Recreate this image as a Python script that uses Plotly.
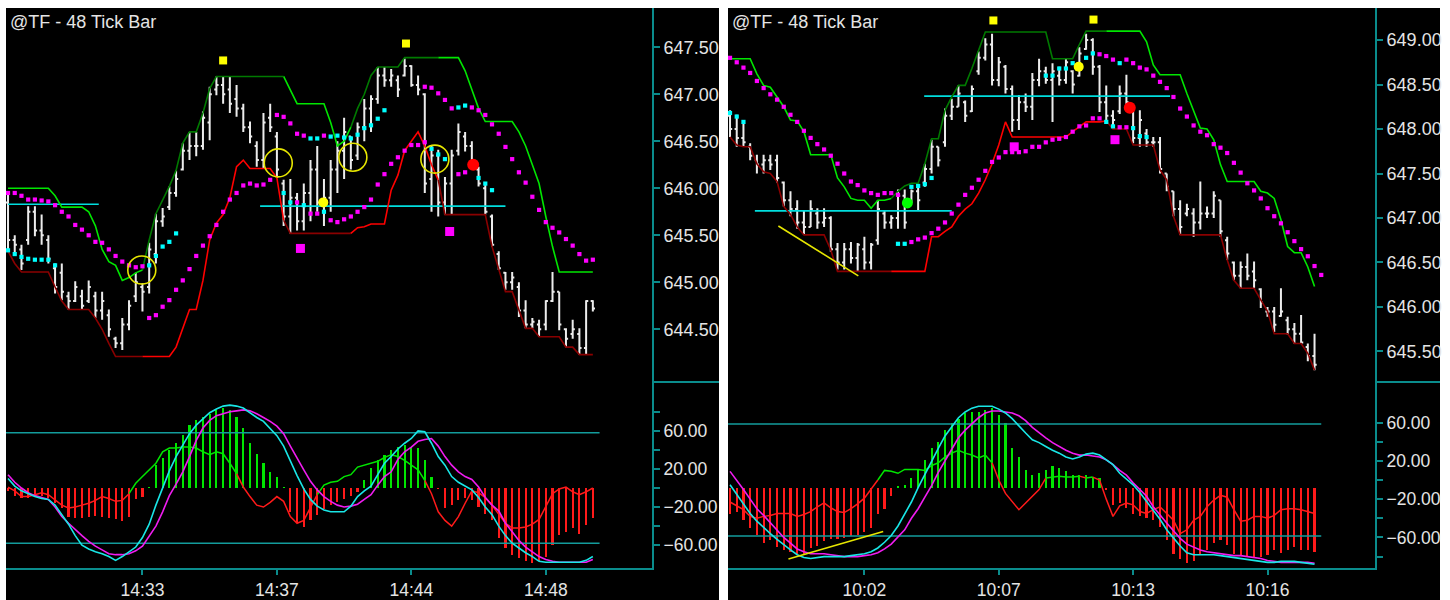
import plotly.graph_objects as go

TITLE = "@TF - 48 Tick Bar"

# ======================= LEFT CHART DATA =======================
L_time_tickvals = [20, 40, 60, 80]
L_time_ticktext = ["14:33", "14:37", "14:44", "14:48"]
L_price_ticks = [644.5, 645.0, 645.5, 646.0, 646.5, 647.0, 647.5]
L_osc_ticks = [60, 20, -20, -60]
L_osc_minor = [80, 40, 0, -40]
L_osc_levels = [58, -58]
L_hist_base = 0.0

L_open = [645.85,645.45,645.35,645.45,645.75,645.55,645.45,645.15,645.10,644.85,
          644.80,644.85,644.80,644.85,644.70,644.65,644.40,644.35,644.55,644.85,
          644.95,644.95,645.30,645.65,645.80,645.95,646.20,646.40,646.45,646.45,
          646.70,647.05,647.10,647.05,646.95,646.85,646.65,646.45,646.30,646.75,
          646.55,646.05,645.70,645.90,645.65,645.95,646.20,645.85,645.90,646.20,
          646.40,646.55,646.35,646.65,646.85,646.95,647.20,647.15,647.15,647.20,
          647.30,647.10,647.00,646.10,646.35,645.85,646.05,646.40,646.55,646.45,
          646.20,646.00,645.70,645.30,645.10,645.00,644.95,644.70,644.55,644.55,
          644.55,644.80,644.90,644.50,644.45,644.45,644.30,644.80]
L_high = [645.93,645.50,645.40,645.81,645.81,645.72,645.50,645.20,645.20,644.90,
          645.01,644.92,645.02,644.90,644.90,644.71,644.42,644.62,644.81,645.10,
          644.99,645.42,645.73,645.79,646.02,646.19,646.48,646.60,646.60,646.82,
          647.08,647.19,647.19,647.19,647.10,646.90,646.71,646.50,646.80,646.90,
          646.60,646.09,646.10,645.95,646.05,646.30,646.45,646.10,646.30,646.50,
          646.75,646.55,646.70,646.95,646.99,647.29,647.29,647.27,647.20,647.38,
          647.31,647.20,647.01,646.45,646.41,646.12,646.41,646.69,646.60,646.50,
          646.23,646.04,645.72,645.33,645.11,645.11,645.00,644.81,644.62,644.60,
          644.81,645.11,644.90,644.51,644.60,644.51,644.81,644.81]
L_low = [645.33,645.31,645.13,645.40,645.49,645.40,645.20,644.88,644.81,644.71,
         644.79,644.71,644.78,644.62,644.60,644.42,644.30,644.28,644.49,644.79,
         644.69,644.88,645.20,645.59,645.77,645.91,646.19,646.30,646.34,646.41,
         646.51,646.99,646.90,646.80,646.76,646.60,646.48,646.23,646.21,646.60,
         646.11,645.60,645.52,645.55,645.55,645.65,645.75,645.60,645.75,645.95,
         646.10,646.20,646.30,646.50,646.60,646.90,647.08,647.08,646.97,647.19,
         647.08,646.99,645.95,645.75,645.70,645.72,645.72,646.35,646.39,646.27,
         646.02,645.72,645.38,645.13,644.92,644.92,644.63,644.51,644.51,644.42,
         644.49,644.79,644.49,644.31,644.40,644.23,644.23,644.69]
L_close = [645.45,645.40,645.20,645.75,645.55,645.50,645.25,644.95,644.90,644.80,
           644.95,644.75,644.95,644.70,644.80,644.50,644.35,644.55,644.75,645.00,
           644.90,645.35,645.65,645.70,645.95,646.10,646.40,646.45,646.45,646.75,
           647.00,647.10,647.00,646.90,646.85,646.65,646.55,646.30,646.70,646.65,
           646.20,645.70,645.90,645.65,645.95,646.20,645.85,645.90,646.20,646.40,
           646.60,646.30,646.65,646.85,646.95,647.20,647.15,647.20,647.05,647.30,
           647.10,647.05,646.05,646.35,645.85,646.05,646.35,646.60,646.45,646.30,
           646.05,645.75,645.40,645.15,645.00,645.05,644.70,644.55,644.58,644.50,
           644.80,644.90,644.55,644.40,644.50,644.30,644.80,644.72]
L_upper = [646.00,646.00,646.00,646.00,646.00,646.00,646.00,645.92,645.80,645.80,
           645.80,645.80,645.75,645.60,645.35,645.22,645.18,645.02,645.05,645.10,
           645.13,645.45,645.73,645.88,646.02,646.19,646.48,646.60,646.60,646.80,
           647.06,647.19,647.19,647.19,647.19,647.19,647.19,647.19,647.19,647.19,
           647.19,647.19,647.05,646.90,646.90,646.90,646.90,646.90,646.70,646.45,
           646.50,646.65,646.85,647.00,647.20,647.29,647.29,647.29,647.29,647.39,
           647.39,647.39,647.39,647.39,647.39,647.39,647.39,647.39,647.25,647.05,
           646.85,646.71,646.71,646.71,646.71,646.71,646.60,646.45,646.25,646.05,
           645.70,645.38,645.11,645.11,645.11,645.11,645.11,645.11]
L_lower = [645.33,645.20,645.11,645.11,645.11,645.11,645.11,644.95,644.80,644.71,
           644.71,644.71,644.71,644.62,644.50,644.35,644.21,644.21,644.21,644.21,
           644.21,644.21,644.21,644.21,644.21,644.31,644.50,644.71,644.71,645.02,
           645.45,645.63,645.72,645.90,646.23,646.30,646.21,646.21,646.21,646.21,
           646.11,645.66,645.52,645.52,645.52,645.52,645.52,645.52,645.52,645.52,
           645.52,645.52,645.58,645.59,645.62,645.62,645.62,645.98,646.14,646.40,
           646.50,646.60,646.45,646.25,646.09,645.72,645.72,645.72,645.72,645.72,
           645.72,645.72,645.38,645.15,644.90,644.90,644.71,644.51,644.51,644.42,
           644.42,644.42,644.42,644.31,644.31,644.23,644.23,644.23]
L_trend = [0]*21 + [1]*21 + [0]*10 + [1]*13 + [0]*23
N = None
L_mag_hi = [645.95,645.95,645.92,645.88,645.88,645.87,645.86,645.82,645.75,645.70,
            645.61,645.56,645.50,645.43,645.42,645.35,645.28,645.22,645.18,645.16,645.17,
            N,N,N,N,N,N,N,N,N,N,N,N,N,N,N,N,N,N,N,
            646.78,646.76,646.69,646.58,646.56,N,N,646.56,
            N,N,N,N,N,N,N,N,N,N,N,N,N,N,
            647.08,647.07,647.01,646.94,646.85,N,N,646.86,646.83,646.78,646.68,646.58,
            646.44,646.31,646.17,646.06,645.91,645.77,645.64,645.58,645.53,645.46,
            645.39,645.30,645.23,645.24]
L_mag_lo = [N]*21 + [644.62,644.65,644.74,644.81,644.92,645.02,645.14,645.28,645.39,645.49,
            645.61,645.75,645.88,645.95,646.03,646.05,646.03,646.04,646.09,
            N,N,N,
            645.85,N,645.73,645.73,N,645.66,645.64,645.67,645.70,645.75,645.80,645.88,
            646.04,646.15,646.26,646.33,646.40,646.46,646.46,646.49,
            N,N,N,N,646.15,646.17]
L_cyan_hi = [N]*45 + [646.53,646.53,N,646.55,646.56,646.54,646.53,646.57,646.64,646.67,
             646.74,646.83] + [N]*10 + [646.86,646.88]
L_cyan_lo = [645.34,645.30,645.27,645.25,645.24,645.24,645.24,645.18] + [N]*13 + \
            [645.18,645.28,645.38,645.43,645.52] + [N]*15 + \
            [645.95,645.85,N,645.82,N,N,645.75] + [N]*15 + \
            [646.42,646.36,646.31] + [N]*4 + [646.11,646.05,645.98]
L_hl_start = [0, 37.5]
L_hl_end = [13.5, 74]
L_hl_price = [645.83, 645.81]
L_circle_x = [19.9, 40.2, 51.3, 63.5]
L_circle_y = [645.13, 646.27, 646.33, 646.31]
L_sq_yellow_x = [32.0, 59.2]
L_sq_yellow_y = [647.36, 647.54]
L_sq_magenta_x = [43.5, 65.7]
L_sq_magenta_y = [645.36, 645.54]
L_dot_yellow_x = [46.9]
L_dot_yellow_y = [645.85]
L_dot_green_x = []
L_dot_green_y = []
L_dot_red_x = [69.2]
L_dot_red_y = [646.25]
L_trend_line_x = []
L_trend_line_y = []
L_osc_trend_x = []
L_osc_trend_y = []

L_osc_cyan = [10,2,-3,-6,-9,-11,-12,-18,-28,-38,
              -50,-60,-64,-67,-69,-72,-76,-72,-67,-62,
              -52,-38,-18,0,18,33,45,57,66,73,
              79,83,86,87,86,84,79,74,70,63,
              55,44,28,13,-1,-12,-19,-23,-25,-25,
              -25,-19,-9,-3,2,14,26,33,41,47,
              52,60,59,47,33,24,12,6,2,-2,
              -10,-20,-28,-40,-50,-58,-63,-68,-72,-77,
              -78,-78,-78,-78,-78,-78,-76,-72]
L_osc_mag = [14,6,0,-5,-8,-10,-12,-20,-30,-37,
             -44,-50,-56,-61,-65,-69,-70,-70,-69,-66,
             -61,-51,-40,-25,-8,4,17,33,50,63,
             71,76,78,80,81,82,81,78,74,70,
             65,57,44,31,19,7,-2,-9,-14,-18,
             -20,-19,-17,-12,-7,3,12,17,30,38,
             43,49,51,52,44,33,24,17,12,9,
             1,-10,-18,-24,-37,-46,-55,-62,-67,-72,
             -75,-77,-78,-78,-78,-78,-78,-75]
L_osc_fast = [1,-3,-9,-9,-7,-5,-7,-13,-18,-21,
              -20,-18,-16,-13,-9,-11,-14,-13,-6,5,
              12,19,26,38,42,42,43,43,42,38,
              35,38,36,26,15,1,-9,-18,-20,-15,
              -9,-14,-30,-37,-34,-20,-7,3,6,7,
              12,14,22,24,26,28,32,35,33,29,
              24,19,8,-6,-25,-34,-40,-30,-16,-3,
              -5,-10,-18,-27,-37,-42,-42,-41,-38,-33,
              -20,-6,-1,1,-4,-7,-4,0]
L_hist = [-3,-8,-10,-10,-9,-8,-10,-16,-21,-30,
          -32,-32,-30,-29,-30,-32,-33,-35,-30,-12,
          -9,1,24,31,40,47,56,66,71,75,
          78,82,84,82,75,63,47,36,26,17,
          12,1,-25,-37,-41,-34,-28,-22,-18,-15,
          -12,-8,-4,8,21,29,35,40,43,45,
          43,42,29,12,-1,-21,-18,-13,-11,-13,
          -20,-27,-34,-53,-63,-70,-74,-77,-79,-77,
          -72,-60,-49,-46,-42,-48,-39,-32]

# ======================= RIGHT CHART DATA =======================
R_time_tickvals = [20, 40, 60, 80]
R_time_ticktext = ["10:02", "10:07", "10:13", "10:16"]
R_price_ticks = [645.5, 646.0, 646.5, 647.0, 647.5, 648.0, 648.5, 649.0]
R_osc_ticks = [60, 20, -20, -60]
R_osc_minor = [40, 0, -40, -80]
R_osc_levels = [58.5, -58.5]
R_hist_base = -8.5

R_open = [648.15,648.00,647.90,647.80,647.65,647.60,647.65,647.65,647.40,647.20,
          647.10,646.95,646.90,647.05,646.95,647.00,646.65,646.50,646.65,646.55,
          646.65,646.50,646.75,647.05,646.95,647.00,647.25,647.20,647.30,647.40,
          647.55,647.80,647.85,648.15,648.25,648.30,648.20,648.65,648.80,648.95,
          648.55,648.70,648.45,648.10,648.30,648.25,648.55,648.65,648.55,648.60,
          648.55,648.65,648.60,648.90,649.00,648.70,648.30,648.15,648.20,648.40,
          648.20,647.90,647.95,647.85,647.85,647.50,647.30,647.10,647.05,647.05,
          646.95,647.05,647.05,647.20,646.75,646.50,646.35,646.45,646.40,646.20,
          645.95,645.95,645.90,645.85,645.75,645.70,645.55,645.45]
R_high = [648.21,648.16,648.08,647.84,647.71,647.71,647.71,647.71,647.41,647.30,
          647.20,647.09,647.20,647.11,647.11,647.02,646.72,646.72,646.73,646.72,
          646.79,646.72,647.20,647.09,647.03,647.32,647.32,647.32,647.37,647.61,
          647.88,647.80,648.23,648.34,648.49,648.32,648.49,648.87,649.02,649.07,
          648.81,648.72,648.49,648.38,648.40,648.63,648.79,648.70,648.74,648.70,
          648.79,648.66,648.92,649.07,649.02,648.72,648.49,648.21,648.49,648.61,
          648.21,648.21,648.00,647.91,647.91,647.50,647.30,647.20,647.16,647.11,
          647.41,647.13,647.30,647.20,646.79,646.51,646.51,646.60,646.51,646.21,
          646.00,646.00,646.21,645.89,645.82,645.91,645.59,645.70]
R_low = [647.91,647.80,647.80,647.65,647.50,647.50,647.54,647.40,647.13,647.02,
         646.88,646.81,646.90,646.88,646.90,646.62,646.42,646.42,646.49,646.40,
         646.42,646.42,646.70,646.88,646.88,646.88,646.88,647.17,647.09,647.35,
         647.50,647.58,647.80,648.10,648.25,648.08,648.19,648.61,648.77,648.49,
         648.48,648.40,647.97,647.99,648.19,648.10,648.48,648.51,648.08,648.49,
         648.51,648.40,648.59,648.89,648.61,648.19,648.06,648.03,648.17,648.25,
         647.84,647.80,647.80,647.80,647.50,647.30,647.02,646.81,647.02,646.79,
         646.87,647.00,647.00,646.79,646.53,646.30,646.21,646.30,646.21,645.99,
         645.89,645.72,645.89,645.69,645.59,645.59,645.39,645.29]
R_close = [648.00,647.90,647.85,647.70,647.60,647.65,647.60,647.45,647.20,647.10,
           646.95,646.90,647.10,646.95,647.00,646.65,646.50,646.65,646.55,646.70,
           646.50,646.70,647.10,646.95,647.00,647.25,646.95,647.30,647.20,647.55,
           647.80,647.65,648.15,648.25,648.40,648.15,648.45,648.80,648.95,648.55,
           648.75,648.45,648.10,648.30,648.25,648.55,648.65,648.55,648.65,648.55,
           648.75,648.50,648.85,649.00,648.70,648.30,648.15,648.10,648.40,648.30,
           647.90,648.10,647.85,647.85,647.55,647.35,647.10,646.90,647.10,646.95,
           647.05,647.05,647.25,646.85,646.60,646.35,646.45,646.35,646.30,646.05,
           645.95,645.80,645.95,645.75,645.70,645.60,645.45,645.35]
R_upper = [648.79,648.79,648.79,648.79,648.62,648.49,648.47,648.36,648.25,648.10,
           648.09,647.97,647.71,647.71,647.71,647.71,647.45,647.35,647.22,647.20,
           647.20,647.11,647.20,647.20,647.22,647.30,647.36,647.39,647.39,647.61,
           647.89,647.89,648.21,648.36,648.49,648.49,648.68,648.89,649.09,649.09,
           649.09,649.09,649.09,649.09,649.09,649.09,649.09,649.09,648.79,648.79,
           648.79,648.79,648.95,649.10,649.10,649.10,649.10,649.10,649.10,649.10,
           649.10,649.10,648.98,648.72,648.61,648.61,648.61,648.61,648.40,648.21,
           648.01,648.00,647.88,647.60,647.41,647.41,647.41,647.41,647.41,647.30,
           647.28,647.22,646.98,646.68,646.61,646.61,646.45,646.23]
R_lower = [647.91,647.82,647.80,647.80,647.61,647.52,647.50,647.41,647.13,647.04,
           646.90,646.81,646.81,646.81,646.81,646.64,646.40,646.40,646.40,646.40,
           646.40,646.40,646.40,646.40,646.40,646.40,646.40,646.40,646.40,646.40,
           646.79,646.79,646.85,646.90,647.02,647.10,647.16,647.28,647.43,647.61,
           647.82,648.08,647.91,647.91,647.91,647.91,647.91,647.91,647.91,647.91,
           647.91,647.97,648.03,648.08,648.08,648.08,648.09,648.00,648.00,648.00,
           647.82,647.82,647.82,647.82,647.54,647.43,647.02,646.81,646.81,646.81,
           646.81,646.81,646.81,646.81,646.53,646.30,646.21,646.21,646.21,646.08,
           645.95,645.70,645.70,645.70,645.59,645.59,645.48,645.29]
R_trend = [0]*25 + [1]*32 + [0]*31
R_mag_hi = [648.80,648.75,648.69,648.63,648.54,648.46,648.39,648.33,648.25,648.16,
            648.08,647.98,647.90,647.83,647.77,647.70,647.61,647.50,647.41,647.37,
            647.31,647.28,647.26,647.28,647.28,647.26] + [N]*29 + \
           [648.84,648.82,648.78,N,648.78,648.74,648.69,648.67,648.60,648.53,
            648.46,648.36,648.23,648.14,648.04,647.97,647.93,647.83,647.79,647.73,
            647.62,647.51,647.39,647.31,647.22,647.11,647.02,646.94,646.84,646.74,
            646.65,646.57,646.46,646.36]
R_mag_lo = [N]*27 + [646.73,646.76,646.78,646.83,646.88,646.95,647.05,647.15,647.26,647.34,
            647.43,647.53,647.63,647.68,647.74,647.74,647.74,647.75,647.80,647.80,
            647.85,647.88,647.89,647.91,647.97,648.03,648.04,648.12,648.12,
            N,N,648.02,648.02]
R_cyan_hi = [N]*47 + [648.60,648.60,648.68,648.68,648.74,N,648.80,648.85,N,N,N,648.74]
R_cyan_lo = [648.18,648.14,648.08] + [N]*22 + \
            [646.71,646.71,647.35,647.36,647.38,647.45] + [N]*25 + \
            [648.08,648.03,N,N,648.01,647.92,647.91]
R_hl_start = [28.9, 3.7]
R_hl_end = [65.5, 33.0]
R_hl_price = [648.37, 647.08]
R_circle_x = []
R_circle_y = []
R_sq_yellow_x = [39.2, 54.1]
R_sq_yellow_y = [649.22, 649.23]
R_sq_magenta_x = [42.3, 57.3]
R_sq_magenta_y = [647.80, 647.88]
R_dot_yellow_x = [51.9]
R_dot_yellow_y = [648.70]
R_dot_green_x = [26.4]
R_dot_green_y = [647.17]
R_dot_red_x = [59.5]
R_dot_red_y = [648.24]
R_trend_line_x = [7.2, 19.1]
R_trend_line_y = [646.91, 646.35]
R_osc_trend_x = [8.7, 22.8]
R_osc_trend_y = [-82.5, -53.9]

R_osc_cyan = [-5,-15,-26,-35,-43,-50,-56,-62,-68,-73,
              -78,-81,-82,-81,-80,-80,-80,-80,-79,-78,
              -77,-75,-71,-65,-58,-48,-36,-23,-8,6,
              20,33,46,56,65,71,75,77,77,77,
              74,70,64,56,49,42,39,35,31,28,
              24,22,24,27,28,26,21,16,7,1,
              -5,-13,-22,-31,-41,-52,-61,-69,-76,-78,
              -78,-78,-78,-79,-80,-81,-82,-83,-84,-85,
              -86,-86,-85,-85,-85,-86,-87,-88]
R_osc_mag = [9,0,-10,-20,-30,-37,-45,-52,-60,-66,
             -72,-75,-77,-77,-77,-78,-79,-80,-80,-80,
             -79,-78,-76,-72,-67,-60,-52,-40,-30,-18,
             -6,8,20,33,44,52,59,65,70,72,
             72,71,70,67,62,55,49,44,39,35,
             31,28,26,26,25,24,21,16,10,5,
             -3,-10,-17,-28,-37,-45,-53,-61,-67,-70,
             -73,-75,-76,-77,-78,-79,-79,-80,-81,-82,
             -84,-85,-86,-86,-86,-86,-86,-87]
R_osc_fast = [-23,-27,-31,-38,-40,-38,-37,-35,-35,-35,
              -38,-36,-33,-28,-24,-29,-33,-34,-30,-25,
              -19,-10,0,10,9,7,11,11,11,10,
              15,18,24,28,31,28,26,23,26,18,
              0,-14,-22,-31,-24,-17,-10,2,3,4,
              3,3,4,2,3,0,-20,-38,-27,-24,
              -26,-33,-35,-31,-28,-35,-42,-56,-52,-42,
              -38,-28,-21,-16,-18,-31,-43,-42,-38,-38,
              -40,-37,-31,-30,-30,-31,-33,-35]
R_hist = [-35,-33,-42,-50,-57,-66,-63,-70,-73,-75,
          -77,-77,-71,-69,-64,-62,-62,-61,-59,-57,
          -54,-50,-36,-30,-17,-6,-5,2,10,21,
          33,40,52,59,64,70,71,71,73,75,
          68,59,33,24,10,5,7,10,15,13,
          9,5,5,5,3,2,-10,-26,-24,-29,
          -36,-38,-40,-42,-49,-63,-77,-82,-87,-85,
          -77,-73,-66,-63,-68,-77,-78,-80,-80,-80,
          -78,-73,-76,-73,-70,-73,-73,-75]

# ======================= STYLE =======================
W, H = 1450, 600
BG = "#000000"
TEAL = "#0a8c8c"
LEVEL = "#139c9c"
TXT = "#e4e4e4"
FONT = "Liberation Sans, Arial, sans-serif"
BAR_COL = "#ececec"
GREEN_B, GREEN_D = "#00e600", "#007a00"
RED_B, RED_D = "#ff0000", "#8a0000"
HIST_G, HIST_R = "#00e600", "#ff1a1a"
CYAN, MAGENTA = "#00ffff", "#ff00ff"
OSC_CYAN, OSC_MAG = "#19e6e6", "#f01cf0"

fig = go.Figure()


def runs(xs, ys, seg_keys):
    out = {}
    j0 = 0
    m = len(seg_keys)
    for j in range(1, m + 1):
        if j == m or seg_keys[j] != seg_keys[j0]:
            bx, by = out.setdefault(seg_keys[j0], ([], []))
            bx.extend(list(xs[j0:j + 1]) + [None])
            by.extend(list(ys[j0:j + 1]) + [None])
            j0 = j
    return out


def sc(**kw):
    kw.setdefault("hoverinfo", "skip")
    kw.setdefault("showlegend", False)
    fig.add_trace(go.Scatter(**kw))


def add_panel(P, xu, yu, xl, yl):
    n = len(P["open"])
    idx = list(range(n))
    for s, e, p in zip(P["hl_start"], P["hl_end"], P["hl_price"]):
        sc(x=[s, e], y=[p, p], mode="lines", line=dict(color="#00dede", width=1.6),
           xaxis=xu, yaxis=yu)
    fig.add_trace(go.Ohlc(x=idx, open=P["open"], high=P["high"], low=P["low"],
                          close=P["close"], tickwidth=0.32, xaxis=xu, yaxis=yu,
                          increasing=dict(line=dict(color=BAR_COL, width=2)),
                          decreasing=dict(line=dict(color=BAR_COL, width=2)),
                          hoverinfo="skip", showlegend=False))
    seg_tr = P["trend"][1:]
    for k, (bx, by) in runs(idx, P["upper"], seg_tr).items():
        sc(x=bx, y=by, mode="lines", line=dict(color=GREEN_D if k else GREEN_B, width=1.6),
           xaxis=xu, yaxis=yu)
    for k, (bx, by) in runs(idx, P["lower"], seg_tr).items():
        sc(x=bx, y=by, mode="lines", line=dict(color=RED_B if k else RED_D, width=1.6),
           xaxis=xu, yaxis=yu)
    for arr, col in ((P["mag_hi"], MAGENTA), (P["mag_lo"], MAGENTA),
                     (P["cyan_hi"], CYAN), (P["cyan_lo"], CYAN)):
        sc(x=list(range(len(arr))), y=arr, mode="markers",
           marker=dict(symbol="square", size=4.2, color=col, line=dict(width=0)),
           xaxis=xu, yaxis=yu)
    if P["circle_x"]:
        sc(x=P["circle_x"], y=P["circle_y"], mode="markers",
           marker=dict(symbol="circle-open", size=28, color="#e6e600", line=dict(width=1.6)),
           xaxis=xu, yaxis=yu)
    sc(x=P["sq_yellow_x"], y=P["sq_yellow_y"], mode="markers",
       marker=dict(symbol="square", size=8, color="#ffff00"), xaxis=xu, yaxis=yu)
    sc(x=P["sq_magenta_x"], y=P["sq_magenta_y"], mode="markers",
       marker=dict(symbol="square", size=9, color=MAGENTA), xaxis=xu, yaxis=yu)
    sc(x=P["dot_yellow_x"], y=P["dot_yellow_y"], mode="markers",
       marker=dict(symbol="circle", size=10, color="#ffff00"), xaxis=xu, yaxis=yu)
    if P["dot_green_x"]:
        sc(x=P["dot_green_x"], y=P["dot_green_y"], mode="markers",
           marker=dict(symbol="circle", size=11, color="#00ff00"), xaxis=xu, yaxis=yu)
    sc(x=P["dot_red_x"], y=P["dot_red_y"], mode="markers",
       marker=dict(symbol="circle", size=12, color="#ff0000"), xaxis=xu, yaxis=yu)
    if P["trend_line_x"]:
        sc(x=P["trend_line_x"], y=P["trend_line_y"], mode="lines",
           line=dict(color="#e6e600", width=1.6), xaxis=xu, yaxis=yu)

    base = P["hist_base"]
    fig.add_trace(go.Bar(x=idx, y=[h - base for h in P["hist"]], base=base, width=0.32,
                         marker=dict(color=[HIST_G if h > base else HIST_R for h in P["hist"]],
                                     line=dict(width=0)),
                         xaxis=xl, yaxis=yl, hoverinfo="skip", showlegend=False))
    for lv in P["levels"]:
        sc(x=[-0.3, n], y=[lv, lv], mode="lines", line=dict(color=LEVEL, width=1.6),
           xaxis=xl, yaxis=yl)
    fkeys = [v > 2 for v in P["fast"][1:]]
    for k, (bx, by) in runs(idx, P["fast"], fkeys).items():
        sc(x=bx, y=by, mode="lines", line=dict(color=HIST_G if k else HIST_R, width=1.5),
           xaxis=xl, yaxis=yl)
    sc(x=idx, y=P["osc_mag"], mode="lines", line=dict(color=OSC_MAG, width=1.6),
       xaxis=xl, yaxis=yl)
    sc(x=idx, y=P["osc_cyan"], mode="lines", line=dict(color=OSC_CYAN, width=1.6),
       xaxis=xl, yaxis=yl)
    if P["osc_trend_x"]:
        sc(x=P["osc_trend_x"], y=P["osc_trend_y"], mode="lines",
           line=dict(color="#e6e600", width=1.6), xaxis=xl, yaxis=yl)


LP = dict(open=L_open, high=L_high, low=L_low, close=L_close, upper=L_upper, lower=L_lower,
          trend=L_trend, mag_hi=L_mag_hi, mag_lo=L_mag_lo, cyan_hi=L_cyan_hi, cyan_lo=L_cyan_lo,
          hl_start=L_hl_start, hl_end=L_hl_end, hl_price=L_hl_price,
          circle_x=L_circle_x, circle_y=L_circle_y,
          sq_yellow_x=L_sq_yellow_x, sq_yellow_y=L_sq_yellow_y,
          sq_magenta_x=L_sq_magenta_x, sq_magenta_y=L_sq_magenta_y,
          dot_yellow_x=L_dot_yellow_x, dot_yellow_y=L_dot_yellow_y,
          dot_green_x=L_dot_green_x, dot_green_y=L_dot_green_y,
          dot_red_x=L_dot_red_x, dot_red_y=L_dot_red_y,
          trend_line_x=L_trend_line_x, trend_line_y=L_trend_line_y,
          osc_trend_x=L_osc_trend_x, osc_trend_y=L_osc_trend_y,
          hist=L_hist, hist_base=L_hist_base, levels=L_osc_levels,
          fast=L_osc_fast, osc_mag=L_osc_mag, osc_cyan=L_osc_cyan)
RP = dict(open=R_open, high=R_high, low=R_low, close=R_close, upper=R_upper, lower=R_lower,
          trend=R_trend, mag_hi=R_mag_hi, mag_lo=R_mag_lo, cyan_hi=R_cyan_hi, cyan_lo=R_cyan_lo,
          hl_start=R_hl_start, hl_end=R_hl_end, hl_price=R_hl_price,
          circle_x=R_circle_x, circle_y=R_circle_y,
          sq_yellow_x=R_sq_yellow_x, sq_yellow_y=R_sq_yellow_y,
          sq_magenta_x=R_sq_magenta_x, sq_magenta_y=R_sq_magenta_y,
          dot_yellow_x=R_dot_yellow_x, dot_yellow_y=R_dot_yellow_y,
          dot_green_x=R_dot_green_x, dot_green_y=R_dot_green_y,
          dot_red_x=R_dot_red_x, dot_red_y=R_dot_red_y,
          trend_line_x=R_trend_line_x, trend_line_y=R_trend_line_y,
          osc_trend_x=R_osc_trend_x, osc_trend_y=R_osc_trend_y,
          hist=R_hist, hist_base=R_hist_base, levels=R_osc_levels,
          fast=R_osc_fast, osc_mag=R_osc_mag, osc_cyan=R_osc_cyan)

add_panel(LP, "x", "y", "x2", "y2")
add_panel(RP, "x3", "y3", "x4", "y4")


def px_x(v):
    return v / W


def px_y(v):
    return 1 - v / H


LX = [px_x(6), px_x(652)]
RX = [px_x(728), px_x(1375)]
UY = [px_y(382), px_y(8)]
DY = [px_y(568), px_y(382)]

tfont = dict(family=FONT, size=18, color=TXT)
ofont = dict(family=FONT, size=17.5, color=TXT)


def xhidden(dom, anchor, rng):
    return dict(domain=dom, anchor=anchor, range=rng, visible=False, showgrid=False,
                zeroline=False, rangeslider=dict(visible=False), fixedrange=True)


def xtime(dom, anchor, rng, vals, texts):
    return dict(domain=dom, anchor=anchor, range=rng, tickmode="array", tickvals=vals,
                ticktext=texts, ticks="outside", ticklen=5, tickwidth=1.5, tickcolor=TEAL,
                showline=True, linecolor=TEAL, linewidth=2, showgrid=False, zeroline=False,
                tickfont=ofont, rangeslider=dict(visible=False), fixedrange=True)


def yprice(dom, anchor, rng, vals):
    return dict(domain=dom, anchor=anchor, range=rng, side="right", tickmode="array",
                tickvals=vals, tickformat=".2f", ticks="outside", ticklen=6, tickwidth=1.5,
                tickcolor=TEAL, showline=True, linecolor=TEAL, linewidth=2, showgrid=False,
                zeroline=False, tickfont=tfont, fixedrange=True)


def yosc(dom, anchor, rng, vals, minor_vals):
    return dict(domain=dom, anchor=anchor, range=rng, side="right", tickmode="array",
                tickvals=vals, tickformat=".2f", ticks="outside", ticklen=6, tickwidth=1.5,
                tickcolor=TEAL, showline=True, linecolor=TEAL, linewidth=2, showgrid=False,
                zeroline=False, tickfont=ofont, fixedrange=True,
                minor=dict(tickmode="array", tickvals=minor_vals, ticks="outside",
                           ticklen=6, tickwidth=1.5, tickcolor=TEAL, showgrid=False))


fig.update_layout(
    width=W, height=H, margin=dict(l=0, r=0, t=0, b=0),
    paper_bgcolor="#ffffff", plot_bgcolor=BG, showlegend=False, hovermode=False,
    bargap=0,
    xaxis=xhidden(LX, "y", [-0.3, 95.8]),
    xaxis2=xtime(LX, "y2", [-0.3, 95.8], L_time_tickvals, L_time_ticktext),
    xaxis3=xhidden(RX, "y3", [-0.3, 96.0]),
    xaxis4=xtime(RX, "y4", [-0.3, 96.0], R_time_tickvals, R_time_ticktext),
    yaxis=yprice(UY, "x", [643.939, 647.918], L_price_ticks),
    yaxis2=yosc(DY, "x2", [-84.0, 111.3], L_osc_ticks, L_osc_minor),
    yaxis3=yprice(UY, "x3", [645.157, 649.36], R_price_ticks),
    yaxis4=yosc(DY, "x4", [-91.9, 102.3], R_osc_ticks, R_osc_minor),
    shapes=[
        dict(type="rect", xref="paper", yref="paper", x0=px_x(6), x1=px_x(719),
             y0=0, y1=px_y(8), fillcolor=BG, line=dict(width=0), layer="below"),
        dict(type="rect", xref="paper", yref="paper", x0=px_x(728), x1=px_x(1440),
             y0=0, y1=px_y(8), fillcolor=BG, line=dict(width=0), layer="below"),
        dict(type="line", xref="paper", yref="paper", x0=px_x(652), x1=px_x(719),
             y0=px_y(382), y1=px_y(382), line=dict(color=TEAL, width=2)),
        dict(type="line", xref="paper", yref="paper", x0=px_x(1375), x1=px_x(1440),
             y0=px_y(382), y1=px_y(382), line=dict(color=TEAL, width=2)),
    ],
    annotations=[
        dict(text=TITLE, xref="paper", yref="paper", x=px_x(8), y=px_y(21.5),
             xanchor="left", yanchor="middle", showarrow=False, font=tfont),
        dict(text=TITLE, xref="paper", yref="paper", x=px_x(730), y=px_y(21.5),
             xanchor="left", yanchor="middle", showarrow=False, font=tfont),
    ],
)

fig.write_html("out.html", config={"displayModeBar": False},
               post_script="document.body.style.margin='0';document.body.style.padding='0';")
